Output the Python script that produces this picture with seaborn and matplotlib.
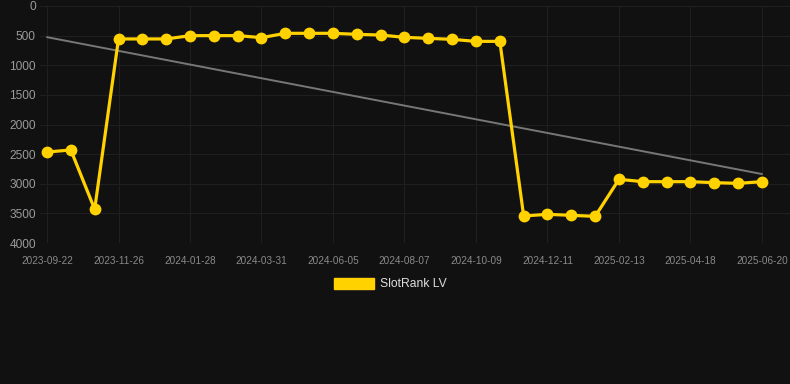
import numpy as np
import pandas as pd
import matplotlib
matplotlib.use("Agg")
import matplotlib.pyplot as plt
from matplotlib.patches import Patch
import seaborn as sns

# ---- data ----
tick_labels = ["2023-09-22", "2023-11-26", "2024-01-28", "2024-03-31", "2024-06-05",
               "2024-08-07", "2024-10-09", "2024-12-11", "2025-02-13", "2025-04-18",
               "2025-06-20"]
rank_values = [2465, 2430, 3430, 556, 556, 556, 501, 500, 500, 534,
               461, 461, 461, 478, 490, 529, 546, 563, 597, 597,
               3544, 3516, 3533, 3550, 2925, 2965, 2965, 2965, 2982, 2993,
               2965]
series_name = "SlotRank LV"

idx = np.arange(len(rank_values))
df = pd.DataFrame({"idx": idx, "rank": rank_values})

# linear trend
coef = np.polyfit(idx, rank_values, 1)
trend = np.polyval(coef, idx)
tdf = pd.DataFrame({"idx": idx, "trend": trend})

sns.set_theme(style="dark")
plt.rcParams["font.family"] = ["Liberation Sans", "DejaVu Sans"]

BG = "#111111"
GRID = "#1f1f1f"
GOLD = "#FFD200"

fig = plt.figure(figsize=(7.9, 3.84), dpi=100, facecolor=BG)
ax = fig.add_axes([40 / 790, 1 - 243 / 384, 750 / 790, 237 / 384])
ax.set_facecolor(BG)

sns.lineplot(data=tdf, x="idx", y="trend", ax=ax, color="#777777", linewidth=1.4, zorder=2)
sns.lineplot(data=df, x="idx", y="rank", ax=ax, color=GOLD, linewidth=2.3,
             marker="o", markersize=8.5, markeredgewidth=0, zorder=3)

ax.set_xlim(-7 / 23.83, 30 + 28 / 23.83)
ax.set_ylim(4000, 0)
ax.set_yticks([0, 500, 1000, 1500, 2000, 2500, 3000, 3500, 4000])
ax.set_xticks(idx[::3])
ax.set_xticklabels(tick_labels)
ax.set_xlabel("")
ax.set_ylabel("")

ax.grid(True, color=GRID, linewidth=0.8)
for s in ax.spines.values():
    s.set_visible(False)
ax.tick_params(axis="y", length=0, pad=3, labelsize=8.6, labelcolor="#9a9a9a")
ax.tick_params(axis="x", length=6, width=0.8, color="#262626", pad=3, labelsize=7.2,
               labelcolor="#8a8a8a")

fig.legend(handles=[Patch(facecolor=GOLD, edgecolor=GOLD, label=series_name)],
           loc="center", bbox_to_anchor=(390 / 790, 1 - 284 / 384), frameon=False,
           handlelength=3.3, handleheight=1.0, handletextpad=0.5,
           fontsize=8.7, labelcolor="#dddddd")

fig.savefig("out.png", dpi=100, facecolor=BG)
